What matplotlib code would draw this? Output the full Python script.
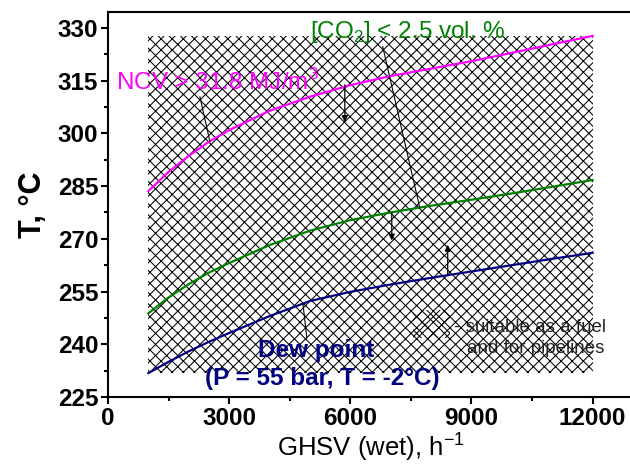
import matplotlib
matplotlib.use("Agg")
import matplotlib.pyplot as plt
from matplotlib import font_manager
from matplotlib.patches import Rectangle

# ---- data ----
ghsv = [1000, 1500, 2000, 2500, 3000, 4000, 5000, 6000, 7000, 8000, 9000, 10000, 11000, 12000]
t_ncv = [283.6, 289.0, 293.6, 297.6, 300.9, 306.4, 310.4, 313.7, 316.3, 318.4, 320.5, 322.9, 325.3, 327.7]
t_co2 = [248.8, 253.3, 257.1, 260.4, 263.1, 268.2, 272.3, 275.3, 277.5, 279.4, 281.1, 282.9, 284.8, 286.7]
t_dew = [231.8, 235.0, 238.0, 240.7, 243.2, 248.0, 252.3, 254.9, 257.0, 258.9, 260.7, 262.5, 264.3, 266.0]
region_x = [1000, 12000]
region_t = [231.8, 327.7]
xticks = [0, 3000, 6000, 9000, 12000]
yticks = [225, 240, 255, 270, 285, 300, 315, 330]

names = {f.name for f in font_manager.fontManager.ttflist}
narrow = 'Liberation Sans Narrow' if 'Liberation Sans Narrow' in names else 'Liberation Sans'
nsize = 20 if narrow == 'Liberation Sans Narrow' else 17.5

plt.rcParams['font.family'] = ['Liberation Sans', 'DejaVu Sans']
plt.rcParams['mathtext.fontset'] = 'custom'
plt.rcParams['mathtext.rm'] = 'Liberation Sans'
plt.rcParams['mathtext.bf'] = 'Liberation Sans:bold'
plt.rcParams['hatch.linewidth'] = 0.75

fig = plt.figure(figsize=(6.3, 4.65), dpi=100)
ax = fig.add_axes([108/630, 1-397/465, (633-108)/630, (397-12)/465])

# hatched region
ax.add_patch(Rectangle((region_x[0], region_t[0]), region_x[1]-region_x[0], region_t[1]-region_t[0],
                       facecolor='none', edgecolor='black', linewidth=0, hatch='xxx', zorder=1))

ax.plot(ghsv, t_ncv, color='#FF00FF', lw=1.6, zorder=3)
ax.plot(ghsv, t_co2, color='#008000', lw=1.6, zorder=3)
ax.plot(ghsv, t_dew, color='#000080', lw=1.6, zorder=3)

# labels
ax.text(198, 312.4, 'NCV > 31.8 MJ/m$^3$', color='#FF00FF', fontsize=nsize,
        family=narrow, va='baseline', ha='left', zorder=4)
ax.text(4998, 327.2, '[CO$_2$] < 2.5 vol. %', color='#008000', fontsize=nsize,
        family=narrow, va='baseline', ha='left', zorder=4)
ax.text(5146, 236.4, 'Dew point', color='#000080', fontsize=nsize, fontweight='bold',
        family=narrow, va='baseline', ha='center', zorder=4)
ax.text(5295, 228.4, '(P = 55 bar, T = -2°C)', color='#000080', fontsize=nsize, fontweight='bold',
        family=narrow, va='baseline', ha='center', zorder=4)

# leader lines
ax.plot([2276, 2524], [310.4, 297.6], color='black', lw=0.8, zorder=4)
ax.plot([6804, 7720], [324.6, 278.8], color='black', lw=0.8, zorder=4)
ax.plot([4825, 4924], [251.7, 241.8], color='black', lw=0.8, zorder=4)

# arrows
ap = dict(arrowstyle='-|>', color='black', lw=0.9, mutation_scale=9, shrinkA=0, shrinkB=0)
ax.annotate('', xy=(5864, 303.2), xytext=(5864, 313.8), arrowprops=ap, zorder=4)
ax.annotate('', xy=(7027, 269.5), xytext=(7027, 277.4), arrowprops=ap, zorder=4)
ax.annotate('', xy=(8412, 268.3), xytext=(8412, 259.7), arrowprops=ap, zorder=4)

# legend-like key
ax.add_patch(Rectangle((7546, 241.8), 916, 8.0, facecolor='none', edgecolor='black',
                       linewidth=0, hatch='xx', zorder=2))
ax.text(8560, 243.5, '- suitable as a fuel', color='#222222', fontsize=13.5, va='baseline', ha='left', zorder=4)
ax.text(8880, 237.5, 'and for pipelines', color='#222222', fontsize=13.5, va='baseline', ha='left', zorder=4)

# axes styling
ax.set_xticks(xticks)
ax.set_yticks(yticks)
ax.set_xticks([x + 1500 for x in xticks[:-1]], minor=True)
ax.set_yticks([y + 7.5 for y in yticks[:-1]], minor=True)
ax.set_xlim(0, 13000)
ax.set_ylim(225, 334.5)
ax.tick_params(which='major', direction='out', length=5, width=1.5, labelsize=17.5, pad=2)
ax.tick_params(which='minor', direction='out', length=3, width=1.5)
for lab in ax.get_xticklabels() + ax.get_yticklabels():
    lab.set_fontweight('bold')
for s in ax.spines.values():
    s.set_linewidth(1.5)

ax.set_xlabel('GHSV (wet), h$^{\\mathregular{-1}}$', fontsize=18.5, labelpad=0)
ax.set_ylabel('T, °C', fontsize=22, fontweight='bold')
ax.yaxis.set_label_coords(-0.115, 0.5)

fig.savefig('out.png', dpi=100)
